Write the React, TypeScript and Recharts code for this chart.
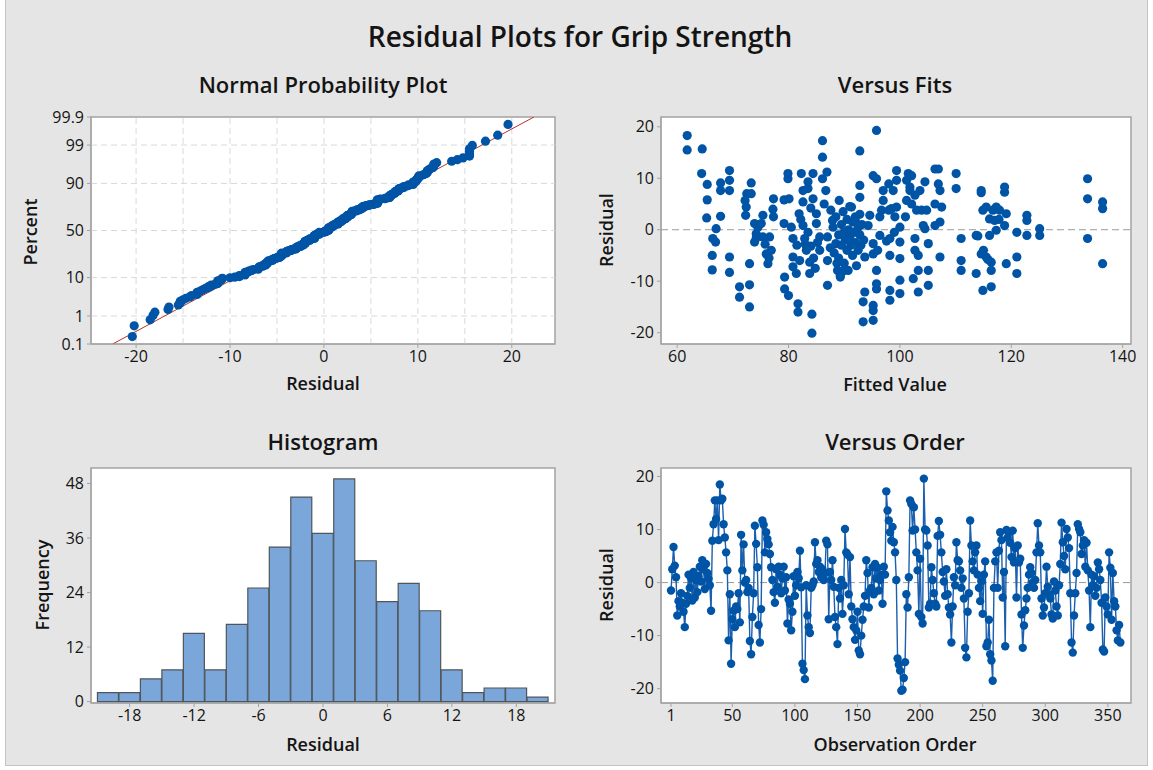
import React from 'react';
import {
  BarChart,
  Bar,
  LineChart,
  Line,
  ScatterChart,
  Scatter,
  XAxis,
  YAxis,
  CartesianGrid,
  ReferenceArea,
  ReferenceLine,
} from 'recharts';

// Residuals in observation order (1..360)
const residuals: number[] = [
  -1.5, 2.5, 6.7, 3.2, 1.0, -6.2, -3.5, -4.5, -2.0, -3.8,
  -5.5, -8.4, -4.0, -2.5, 1.5, -1.0, 0.8, -3.4, 2.0, -2.8,
  0.5, -1.8, 1.2, 3.0, 0.2, 4.2, 2.5, -1.2, 3.5, 1.8,
  0.7, -0.5, -5.3, 7.9, 11.0, 15.5, 12.0, 15.5, 8.0, 18.5,
  15.5, 15.8, 11.0, 8.5, 5.7, 2.3, -10.9, -2.2, -15.3, -6.9,
  -5.3, -8.4, -4.5, -5.0, -2.0, -7.5, 9.0, 2.3, 7.2, 0.0,
  0.5, -1.8, -1.0, -11.0, -13.5, -6.5, -2.0, 10.7, 7.3, 2.9,
  -8.0, -11.3, -5.0, 11.7, 10.9, 5.7, 9.5, 8.2, 7.2, 5.4,
  2.9, 0.5, -1.8, -3.8, 2.5, -0.8, 3.0, 1.5, -2.0, 0.8,
  3.0, -1.5, 1.0, -7.7, -3.2, -4.0, -9.0, -5.5, 1.2, -2.5,
  -0.5, 2.0, 0.8, 6.0, -0.9, -15.3, -16.5, -18.2, -0.5, -6.2,
  -8.4, -9.5, -1.0, -0.5, 0.2, 7.6, 3.5, 4.2, 2.0, 3.0,
  1.0, 2.5, 0.5, 1.8, 7.9, 7.2, -6.9, 2.0, 0.5, 4.2,
  -0.8, -6.5, -8.4, -11.6, -1.0, -3.0, 0.5, -5.9, -0.5, 10.1,
  5.7, 5.3, -2.2, 4.8, -4.5, -6.9, -8.4, -10.8, -9.0, -5.5,
  -12.8, -13.5, -10.0, -7.0, -4.5, -2.5, 4.2, 1.8, -4.7, -1.5,
  -1.0, 2.9, -2.2, 3.5, 0.8, 2.8, -1.5, 0.5, 1.5, -4.0,
  3.0, 1.5, 17.2, 13.6, 11.7, 9.5, 7.9, 10.5, 7.6, 5.7,
  0.5, -14.3, -15.5, -16.6, -20.4, -20.2, -18.0, -15.0, -2.2, -4.7,
  1.0, 15.5, 14.8, 9.8, 14.2, 10.0, 5.7, 2.3, -5.9, 4.5,
  -6.5, -7.7, 19.6, 10.0, 9.8, 7.0, -4.7, -4.0, 2.9, 0.5,
  -2.0, -4.0, -4.5, 8.8, 11.6, 9.0, 5.7, 2.0, 0.2, -2.5,
  2.5, -2.2, -4.7, -6.0, -11.3, -4.5, 1.0, -0.5, 7.6, 4.2,
  4.0, 2.3, -1.0, 0.8, -3.0, -12.3, -14.1, -5.5, -2.0, 11.7,
  7.0, 4.0, 2.3, 5.7, 7.0, 1.5, -1.0, -3.5, 0.2, -5.9,
  1.5, 4.0, -12.0, -11.3, -7.0, -13.5, -14.7, -18.5, -1.0, 4.0,
  5.7, -1.0, 6.0, 9.5, 8.0, -2.8, 2.0, -12.0, 9.9, 8.5,
  9.5, 7.5, 4.8, 9.8, 3.8, 6.5, -2.8, 7.0, 3.8, 4.5,
  -6.0, -12.3, -8.1, -5.2, -3.0, -1.0, 1.5, 2.9, 1.8, 0.0,
  -1.0, 0.5, 5.7, 11.2, 7.0, 5.7, -3.0, -6.2, -4.7, -2.0,
  3.0, -0.8, -2.2, -3.0, -6.0, -6.8, 0.2, -1.5, -4.5, -6.2,
  -0.5, 3.5, 11.3, 7.6, 5.0, 2.5, 10.1, 8.5, 6.5, -2.0,
  -11.3, -13.2, -6.2, -2.0, 1.8, 11.0, 10.1, 9.5, 5.4, 7.0,
  8.0, 3.0, 7.5, 2.3, -1.5, -8.4, 1.5, -0.5, 1.2, -2.5,
  -1.0, 3.8, 2.5, 0.5, -3.8, -12.6, -13.0, -2.8, -4.5, -6.0,
  5.7, 2.8, -7.0, 1.8, -3.5, -4.5, -9.0, -10.9, -8.0, -11.3,
];

// (fitted value, residual) pairs
const fitPoints: [number, number][] = [
  [61.8, 18.3], [61.8, 15.5], [64.5, 15.7], [64.4, 10.9], [65.4, 8.8], [65.4, 5.8], [65.3, 2.3], [67.0, 0.2],
  [66.4, -1.7], [66.9, -2.4], [66.3, -5.0], [66.3, -7.8], [67.8, 9.1], [67.8, 7.6], [67.8, 2.6], [69.4, 11.5],
  [69.4, 9.6], [69.4, 7.6], [69.4, -5.3], [69.4, -8.3], [71.2, -11.1], [71.2, -13.1], [72.2, 5.7], [72.4, 4.4],
  [72.5, 7.0], [72.3, 2.8], [73.0, -6.6], [73.0, -10.7], [73.0, -15.0], [73.3, 9.1], [73.3, 7.0], [73.9, 1.2],
  [73.9, -2.4], [74.2, -0.8], [74.5, 0.5], [74.2, -1.6], [75.4, 2.8], [75.1, 1.2], [75.4, -1.4], [76.0, -4.7],
  [76.3, -6.6], [76.6, -1.4], [76.9, -4.0], [77.3, 6.0], [77.3, 2.5], [77.2, 4.0], [75.8, -2.8], [76.5, -5.5],
  [79.2, 5.8], [79.2, 1.2], [79.9, 10.9], [79.9, 9.9], [80.1, 6.0], [79.3, -9.2], [79.3, -11.5], [80.0, -12.8],
  [80.5, 0.5], [80.8, -1.7], [80.8, -5.3], [80.8, -7.2], [81.4, -8.5], [81.7, -14.4], [81.7, -16.0], [82.3, 10.9],
  [82.6, 7.6], [82.6, 5.4], [81.9, 3.1], [82.6, 0.8], [82.9, -1.7], [83.2, -4.0], [83.5, 9.3], [83.5, 8.0],
  [83.8, -6.3], [83.8, -8.5], [84.2, -16.4], [84.2, -20.1], [84.4, 10.9], [84.4, 6.0], [85.0, 3.1], [85.0, 1.2],
  [85.6, -1.4], [85.6, -4.0], [81.5, -3.0], [82.0, -6.0], [82.2, 2.0], [83.0, -2.8], [83.5, -0.5], [84.0, -3.2],
  [84.5, -5.5], [84.8, -7.5], [85.2, -2.5], [84.0, 4.2], [86.1, 17.3], [86.1, 14.1], [86.1, 9.9], [86.9, 11.2],
  [86.7, 7.6], [86.4, 5.0], [87.0, -1.4], [87.0, -6.0], [87.0, -10.8], [87.6, 3.8], [87.9, 1.8], [88.5, -2.7],
  [88.8, -7.9], [89.1, 5.7], [89.3, -9.2], [87.5, -3.5], [88.0, 0.5], [88.2, -4.5], [88.5, 2.5], [89.0, -1.0],
  [89.0, -5.5], [89.5, 1.0], [89.5, -3.0], [89.8, 3.5], [90.0, -0.5], [90.0, -6.5], [90.2, -2.0], [90.5, 2.0],
  [90.5, -4.0], [90.8, 0.0], [91.0, -1.5], [91.0, 4.5], [91.2, -3.0], [91.5, 1.5], [91.5, -5.0], [91.8, -0.5],
  [92.0, 2.5], [92.0, -2.5], [92.2, -7.0], [92.5, 0.5], [92.5, -4.0], [92.8, 3.0], [92.8, -1.0], [93.0, -3.0],
  [93.2, 1.0], [93.5, -2.0], [88.7, -6.5], [89.8, -8.0], [90.7, -7.9], [89.3, -8.9], [91.3, 4.4], [92.0, 1.8],
  [92.8, 15.3], [92.8, 8.6], [92.8, 6.3], [93.7, -5.3], [93.7, -12.1], [93.4, -14.0], [93.4, -17.9], [94.6, 2.8],
  [94.3, 0.8], [95.2, -2.7], [95.2, -4.7], [95.8, 19.3], [95.2, 10.5], [95.8, 9.9], [99.4, 11.5], [99.4, 9.6],
  [98.8, 7.6], [98.0, 8.9], [97.0, 5.7], [96.7, 3.8], [98.5, 4.1], [99.1, 2.5], [100.0, 0.5], [96.4, -1.1],
  [98.2, -1.7], [100.0, -2.4], [98.2, -5.0], [100.0, -5.6], [95.8, -7.9], [95.8, -10.5], [95.8, -11.5], [95.2, -14.7],
  [95.2, -15.7], [95.2, -17.6], [98.2, -11.8], [98.2, -13.7], [100.0, -9.8], [100.0, -12.4], [97.0, 7.6], [98.0, 3.8],
  [96.4, 2.5], [99.4, 4.4], [97.6, -2.2], [96.0, -4.0], [99.0, -0.5], [101.0, 2.5], [101.5, 10.9], [102.1, 10.5],
  [101.8, 7.6], [101.2, 5.7], [102.1, 5.0], [102.7, 6.7], [103.6, 7.6], [104.5, 9.3], [103.0, 3.8], [103.9, 3.8],
  [104.8, 3.8], [102.7, -1.7], [102.7, -4.0], [103.3, -5.0], [102.4, -9.5], [103.3, -7.9], [103.3, -12.1], [104.2, 0.8],
  [104.5, 0.2], [105.1, -2.7], [105.1, -7.9], [105.1, -10.8], [106.3, 11.8], [106.9, 11.8], [106.9, 8.9], [107.2, 7.6],
  [106.3, 5.0], [107.5, 4.4], [107.2, 1.5], [106.3, 0.8], [107.2, -5.3], [101.2, 9.6], [101.8, 8.3], [110.1, 10.9],
  [110.1, 8.0], [111.0, -1.7], [111.0, -6.0], [111.0, -7.9], [113.7, -1.1], [113.7, -8.5], [114.6, 7.6], [114.6, 7.2],
  [114.9, 3.8], [115.5, 4.4], [116.7, 3.8], [116.1, 2.1], [117.0, 1.8], [114.6, -4.7], [115.5, -5.3], [116.4, -6.3],
  [114.9, -11.8], [116.4, -11.1], [116.4, -7.9], [116.1, -1.1], [117.3, 4.4], [117.9, 3.8], [117.3, -0.1], [118.8, 0.8],
  [119.1, 3.1], [118.8, 8.3], [118.8, 7.3], [119.1, -6.6], [121.0, -0.5], [121.0, -5.3], [121.0, -8.5], [122.8, 2.8],
  [122.8, 1.8], [122.8, -1.1], [125.1, 0.2], [125.1, -1.1], [133.7, 9.9], [133.7, 6.0], [133.7, -1.7], [136.4, 5.4],
  [136.4, 4.1], [136.4, -6.6], [115.0, -4.0], [115.8, -5.8], [114.0, -1.2], [117.8, 2.0],
];

// Histogram: bin centres (width 2) and frequencies
const binCenters = [-20, -18, -16, -14, -12, -10, -8, -6, -4, -2, 0, 2, 4, 6, 8, 10, 12, 14, 16, 18, 20];
const binCounts = [2, 2, 5, 7, 15, 7, 17, 25, 34, 45, 37, 49, 31, 22, 26, 20, 7, 2, 3, 3, 1];

const percentTicks = [0.1, 1, 10, 50, 90, 99, 99.9];
const percentGrid = [1, 10, 50, 90, 99];
const probResidualTicks = [-20, -10, 0, 10, 20];
const probResidualGrid = [-20, -15, -10, -5, 0, 5, 10, 15, 20];
const fitTicks = [60, 80, 100, 120, 140];
const residualTicks = [-20, -10, 0, 10, 20];
const histTicks = [-18, -12, -6, 0, 6, 12, 18];
const freqTicks = [0, 12, 24, 36, 48];
const orderTicks = [1, 50, 100, 150, 200, 250, 300, 350];

const FONT = '"Segoe UI", "Open Sans", "Noto Sans", sans-serif';
const BLUE = '#0054a6';
const LINE_BLUE = '#1b5fae';
const FRAME = '#a3a3a3';
const TEXT = '#141414';
const BG = '#e5e5e5';

// inverse standard normal CDF (Acklam)
function invNorm(p: number): number {
  const a = [-39.69683028665376, 220.9460984245205, -275.9285104469687, 138.357751867269, -30.66479806614716, 2.506628277459239];
  const b = [-54.47609879822406, 161.5858368580409, -155.6989798598866, 66.80131188771972, -13.28068155288572];
  const c = [-0.007784894002430293, -0.3223964580411365, -2.400758277161838, -2.549732539343734, 4.374664141464968, 2.938163982698783];
  const d = [0.007784695709041462, 0.3224671290700398, 2.445134137142996, 3.754408661907416];
  const lo = 0.02425;
  if (p < lo) {
    const q = Math.sqrt(-2 * Math.log(p));
    return (((((c[0] * q + c[1]) * q + c[2]) * q + c[3]) * q + c[4]) * q + c[5]) / ((((d[0] * q + d[1]) * q + d[2]) * q + d[3]) * q + 1);
  }
  if (p > 1 - lo) {
    const q = Math.sqrt(-2 * Math.log(1 - p));
    return -(((((c[0] * q + c[1]) * q + c[2]) * q + c[3]) * q + c[4]) * q + c[5]) / ((((d[0] * q + d[1]) * q + d[2]) * q + d[3]) * q + 1);
  }
  const q = p - 0.5;
  const r = q * q;
  return ((((((a[0] * r + a[1]) * r + a[2]) * r + a[3]) * r + a[4]) * r + a[5]) * q) / (((((b[0] * r + b[1]) * r + b[2]) * r + b[3]) * r + b[4]) * r + 1);
}

const n = residuals.length;
const sorted = [...residuals].sort((a, b) => a - b);
const probData = sorted.map((r, i) => ({ x: r, y: invNorm((i + 1 - 0.3) / (n + 0.4)) }));
const mean = residuals.reduce((s, v) => s + v, 0) / n;
const sd = Math.sqrt(residuals.reduce((s, v) => s + (v - mean) ** 2, 0) / (n - 1));
const zTicks = percentTicks.map((p) => invNorm(p / 100));
const zMin = zTicks[0];
const zMax = zTicks[zTicks.length - 1];

const fitData = fitPoints.map(([fit, res]) => ({ x: fit, y: res }));
const histData = binCenters.map((bin, i) => ({ bin, count: binCounts[i] }));
const orderData = residuals.map((res, i) => ({ order: i + 1, res }));

type Frame = { left: number; right: number; top: number; bottom: number };
const COL_L = { left: 91, right: 555 };
const COL_R = { left: 661, right: 1131 };
const ROW_T = { top: 117, bottom: 344 };
const ROW_B = { top: 468, bottom: 703 };

const Y_W = 80;
const X_H = 50;
const PAD = 10;

function place(f: Frame) {
  return {
    style: { position: 'absolute' as const, left: f.left - Y_W, top: f.top - PAD },
    width: f.right - f.left + Y_W + PAD,
    height: f.bottom - f.top + PAD + X_H,
    margin: { top: PAD, right: PAD, bottom: 0, left: 0 },
  };
}

const tickFont = { fill: TEXT, fontSize: 16, fontFamily: FONT };
const axisCommon = {
  type: 'number' as const,
  allowDataOverflow: true,
  interval: 0 as const,
  axisLine: { stroke: FRAME },
  tickLine: { stroke: FRAME },
  tickSize: 4,
  tick: tickFont,
};

const MarkerDot = (props: any) => <circle cx={props.cx} cy={props.cy} r={4.6} fill={BLUE} />;

function Caption({ x, y, size, weight = 600, rotate = false, children }: {
  x: number; y: number; size: number; weight?: number; rotate?: boolean; children: React.ReactNode;
}) {
  return (
    <div
      style={{
        position: 'absolute',
        left: x,
        top: y,
        transform: `translate(-50%, -50%)${rotate ? ' rotate(-90deg)' : ''}`,
        fontFamily: FONT,
        fontSize: size,
        fontWeight: weight,
        color: TEXT,
        whiteSpace: 'nowrap',
        lineHeight: 1,
      }}
    >
      {children}
    </div>
  );
}

function ProbabilityPlot() {
  const f = { ...COL_L, ...ROW_T };
  const p = place(f);
  const xDom: [number, number] = [-24.8, 24.6];
  return (
    <div style={p.style}>
      <ScatterChart width={p.width} height={p.height} margin={p.margin}>
        <CartesianGrid fill="#ffffff" horizontal={false} vertical={false} />
        <XAxis {...axisCommon} dataKey="x" domain={xDom} ticks={probResidualTicks} height={X_H} tickMargin={3} />
        <YAxis
          {...axisCommon}
          dataKey="y"
          domain={[zMin, zMax]}
          ticks={zTicks}
          width={Y_W}
          tickMargin={3}
          tickFormatter={(v: number) => {
            const i = zTicks.findIndex((t) => Math.abs(t - v) < 1e-6);
            return i >= 0 ? String(percentTicks[i]) : '';
          }}
        />
        {probResidualGrid.map((g) => (
          <ReferenceLine key={`gx${g}`} x={g} stroke="#d9d9d9" strokeDasharray="6 4" />
        ))}
        {percentGrid.map((g) => (
          <ReferenceLine key={`gy${g}`} y={invNorm(g / 100)} stroke="#d9d9d9" strokeDasharray="6 4" />
        ))}
        <ReferenceLine
          segment={[
            { x: mean + sd * zMin, y: zMin },
            { x: mean + sd * zMax, y: zMax },
          ]}
          stroke="#b5342a"
          strokeWidth={1}
          ifOverflow="hidden"
        />
        <Scatter data={probData} shape={MarkerDot} isAnimationActive={false} />
        <ReferenceArea x1={xDom[0]} x2={xDom[1]} y1={zMin} y2={zMax} fill="none" stroke={FRAME} strokeWidth={1.5} />
      </ScatterChart>
    </div>
  );
}

function VersusFits() {
  const f = { ...COL_R, ...ROW_T };
  const p = place(f);
  const xDom: [number, number] = [57.1, 141.5];
  const yDom: [number, number] = [-22.2, 21.9];
  return (
    <div style={p.style}>
      <ScatterChart width={p.width} height={p.height} margin={p.margin}>
        <CartesianGrid fill="#ffffff" horizontal={false} vertical={false} />
        <XAxis {...axisCommon} dataKey="x" domain={xDom} ticks={fitTicks} height={X_H} tickMargin={3} />
        <YAxis {...axisCommon} dataKey="y" domain={yDom} ticks={residualTicks} width={Y_W} tickMargin={3} />
        <ReferenceLine y={0} stroke="#9a9a9a" strokeDasharray="7 4" />
        <Scatter data={fitData} shape={MarkerDot} isAnimationActive={false} />
        <ReferenceArea x1={xDom[0]} x2={xDom[1]} y1={yDom[0]} y2={yDom[1]} fill="none" stroke={FRAME} strokeWidth={1.5} />
      </ScatterChart>
    </div>
  );
}

function Histogram() {
  const f = { ...COL_L, ...ROW_B };
  const p = place(f);
  const xDom: [number, number] = [-21.6, 21.6];
  const yDom: [number, number] = [-0.3, 51.4];
  return (
    <div style={p.style}>
      <BarChart width={p.width} height={p.height} margin={p.margin} data={histData} barCategoryGap={0} barGap={0}>
        <CartesianGrid fill="#ffffff" horizontal={false} vertical={false} />
        <XAxis {...axisCommon} dataKey="bin" domain={xDom} ticks={histTicks} height={X_H} tickMargin={3} />
        <YAxis {...axisCommon} domain={yDom} ticks={freqTicks} width={Y_W} tickMargin={3} />
        <Bar dataKey="count" fill="#7ba6d9" stroke="#4f555b" strokeWidth={1.2} isAnimationActive={false} />
        <ReferenceArea x1={xDom[0]} x2={xDom[1]} y1={yDom[0]} y2={yDom[1]} fill="none" stroke={FRAME} strokeWidth={1.5} />
      </BarChart>
    </div>
  );
}

function VersusOrder() {
  const f = { ...COL_R, ...ROW_B };
  const p = place(f);
  const xDom: [number, number] = [-7, 368.5];
  const yDom: [number, number] = [-22.7, 21.6];
  return (
    <div style={p.style}>
      <LineChart width={p.width} height={p.height} margin={p.margin} data={orderData}>
        <CartesianGrid fill="#ffffff" horizontal={false} vertical={false} />
        <XAxis {...axisCommon} dataKey="order" domain={xDom} ticks={orderTicks} height={X_H} tickMargin={3} />
        <YAxis {...axisCommon} domain={yDom} ticks={residualTicks} width={Y_W} tickMargin={3} />
        <ReferenceLine y={0} stroke="#9a9a9a" strokeDasharray="7 4" />
        <Line
          type="linear"
          dataKey="res"
          stroke={LINE_BLUE}
          strokeWidth={1.4}
          dot={{ r: 4.2, fill: BLUE, stroke: 'none' }}
          activeDot={false}
          isAnimationActive={false}
        />
        <ReferenceArea x1={xDom[0]} x2={xDom[1]} y1={yDom[0]} y2={yDom[1]} fill="none" stroke={FRAME} strokeWidth={1.5} />
      </LineChart>
    </div>
  );
}

export default function App() {
  return (
    <div style={{ position: 'absolute', left: 0, top: 0, width: 1153, height: 770, background: '#ffffff' }}>
      <div
        style={{
          position: 'absolute',
          left: 5,
          top: 0,
          width: 1143,
          height: 766,
          background: BG,
          borderLeft: '1px solid #c4c4c4',
          borderRight: '1px solid #c4c4c4',
          borderBottom: '1px solid #c4c4c4',
          boxSizing: 'border-box',
        }}
      />
      <Caption x={580} y={36} size={28} weight={600}>Residual Plots for Grip Strength</Caption>

      <Caption x={323} y={84} size={22}>Normal Probability Plot</Caption>
      <Caption x={895} y={84} size={22}>Versus Fits</Caption>
      <Caption x={323} y={441} size={22}>Histogram</Caption>
      <Caption x={895} y={441} size={22}>Versus Order</Caption>

      <ProbabilityPlot />
      <VersusFits />
      <Histogram />
      <VersusOrder />

      <Caption x={323} y={383} size={18}>Residual</Caption>
      <Caption x={895} y={384} size={18}>Fitted Value</Caption>
      <Caption x={323} y={744} size={18}>Residual</Caption>
      <Caption x={895} y={744} size={18}>Observation Order</Caption>
      <Caption x={30} y={232} size={18} rotate>Percent</Caption>
      <Caption x={606} y={230} size={18} rotate>Residual</Caption>
      <Caption x={42} y={585} size={18} rotate>Frequency</Caption>
      <Caption x={606} y={585} size={18} rotate>Residual</Caption>
    </div>
  );
}
